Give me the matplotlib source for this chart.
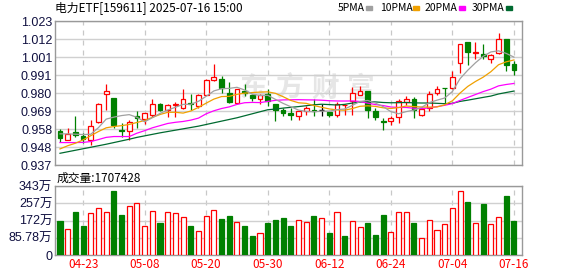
import numpy as np
import pandas as pd
import matplotlib.pyplot as plt

plt.rcParams['font.family'] = ['Noto Sans CJK SC', 'DejaVu Sans']

# 交易日
dates = ['04-18', '04-21', '04-22', '04-23', '04-24', '04-25', '04-28', '04-29', '04-30',
         '05-06', '05-07', '05-08', '05-09', '05-12', '05-13', '05-14', '05-15', '05-16',
         '05-19', '05-20', '05-21', '05-22', '05-23', '05-26', '05-27', '05-28', '05-29', '05-30',
         '06-03', '06-04', '06-05', '06-06', '06-09', '06-10', '06-11', '06-12', '06-13',
         '06-16', '06-17', '06-18', '06-19', '06-20', '06-23', '06-24', '06-25', '06-26',
         '06-27', '06-30', '07-01', '07-02', '07-03', '07-04', '07-07', '07-08', '07-09',
         '07-10', '07-11', '07-14', '07-15', '07-16']
date_labels = ['04-23', '05-08', '05-20', '05-30', '06-12', '06-24', '07-04', '07-16']

opens = [.9576, .9522, .9570, .9546, .9522, .9624, .9796, .9770, .9578, .9576,
         .9662, .9642, .9670, .9734, .9698, .9726, .9710, .9740, .9724, .9790,
         .9876, .9882, .9798, .9738, .9812, .9790, .9764, .9794, .9734, .9700,
         .9680, .9664, .9694, .9698, .9698, .9686, .9666, .9726, .9750, .9786,
         .9814, .9690, .9630, .9634, .9654, .9744, .9764, .9670, .9710, .9798,
         .9832, .9830, .9980, 1.0106, 1.0036, 1.0034, 1.0006, 1.0040, 1.0124, .9974]
highs = [.9584, .9590, .9662, .9560, .9636, .9740, .9854, .9770, .9618, .9636,
         .9690, .9682, .9764, .9740, .9734, .9746, .9826, .9794, .9794, .9884,
         .9974, .9904, .9864, .9826, .9854, .9794, .9794, .9826, .9734, .9710,
         .9710, .9694, .9720, .9764, .9734, .9686, .9746, .9736, .9836, .9840,
         .9814, .9710, .9650, .9660, .9764, .9780, .9774, .9714, .9810, .9840,
         .9832, .9930, 1.0094, 1.0106, 1.0106, 1.0094, 1.0034, 1.0160, 1.0124, .9990]
lows = [.9508, .9518, .9538, .9500, .9490, .9620, .9700, .9590, .9540, .9522,
        .9590, .9614, .9658, .9694, .9654, .9654, .9706, .9700, .9710, .9786,
        .9874, .9800, .9740, .9734, .9784, .9750, .9734, .9720, .9634, .9660,
        .9640, .9640, .9670, .9660, .9664, .9654, .9654, .9670, .9670, .9786,
        .9650, .9640, .9580, .9610, .9620, .9726, .9650, .9664, .9694, .9786,
        .9736, .9826, .9920, .9966, 1.0006, 1.0006, .9980, 1.0034, .9930, .9906]
closes = [.9534, .9558, .9550, .9526, .9600, .9732, .9812, .9610, .9572, .9628,
          .9652, .9678, .9732, .9700, .9730, .9734, .9764, .9734, .9790, .9880,
          .9894, .9830, .9744, .9822, .9800, .9770, .9790, .9750, .9700, .9680,
          .9670, .9690, .9710, .9690, .9698, .9670, .9734, .9730, .9800, .9814,
          .9700, .9654, .9626, .9650, .9750, .9764, .9700, .9706, .9792, .9824,
          .9828, .9894, 1.0090, 1.0044, 1.0046, 1.0020, 1.0026, 1.0124, .9966, .9936]
# 成交量(万)
volumes = [169, 128, 214, 144, 207, 232, 212, 318, 199, 244,
           257, 144, 217, 159, 212, 209, 187, 144, 118, 192,
           222, 179, 194, 162, 144, 94, 108, 159, 174, 183,
           144, 172, 162, 194, 182, 109, 212, 94, 167, 138,
           159, 99, 199, 113, 212, 212, 159, 83, 172, 123,
           152, 232, 316, 263, 159, 254, 152, 187, 293, 170.7428]

# 均线开头部分(读自原图, 之前的数据不在图内)
ma5_head = [.9556, .9556, .9554, .9552]
ma10_head = [.9466, .9485, .9500, .9520, .9545, .9570, .9592, .9600, .9605]
ma20_head = [.9504, .9504, .9504, .9505, .9510, .9522, .9535, .9540, .9540, .9540,
             .9560, .9575, .9592, .9605, .9618, .9625, .9630, .9638, .9650]
ma30_head = [.9440, .9449, .9458, .9467, .9476, .9485, .9494, .9504, .9514, .9524,
             .9535, .9544, .9553, .9562, .9570, .9578, .9586, .9594, .9602, .9612,
             .9622, .9632, .9642, .9652, .9664, .9676, .9688, .9700, .9704]

price_labels = ['0.937', '0.948', '0.958', '0.969', '0.980', '0.991', '1.001', '1.012', '1.023']
vol_labels = ['0', '85.78万', '172万', '257万', '343万']
vol_top = 343.12

RED = '#ff0000'
GREEN = '#008000'
GRID = '#d0d0d0'

W, H = 578, 276
fig = plt.figure(figsize=(W / 100, H / 100), dpi=100)


def fx(px):
    return px / W


def fy(py):
    return 1 - py / H


ax = fig.add_axes([fx(55), fy(165), fx(522) - fx(55), fy(21) - fy(165)])
ax2 = fig.add_axes([fx(55), fy(255), fx(522) - fx(55), fy(186) - fy(255)])

x = np.arange(len(closes))
xlim = (-0.65, 60.05)

s = pd.Series(closes)


def moving_avg(n, head):
    m = s.rolling(n).mean().to_numpy()
    m[:len(head)] = head
    return m


# K线
for i in x:
    o, h, l, c = opens[i], highs[i], lows[i], closes[i]
    if c > o:
        col, face = RED, 'white'
    elif c < o:
        col, face = GREEN, GREEN
    else:
        col, face = 'black', 'black'
    ax.vlines(i, l, h, color=col, lw=0.9, zorder=3)
    if c == o:
        ax.hlines(c, i - 0.33, i + 0.33, color=col, lw=1, zorder=4)
    else:
        ax.bar(i, abs(c - o), bottom=min(o, c), width=0.62, facecolor=face,
               edgecolor=col, lw=0.9, zorder=4)

ma_colors = {5: '#a0a0a0', 10: '#f0a000', 20: '#ff00ff', 30: '#006a30'}
for n, head in [(30, ma30_head), (20, ma20_head), (10, ma10_head), (5, ma5_head)]:
    ax.plot(x, moving_avg(n, head), color=ma_colors[n], lw=0.9, zorder=5)

ymin, ymax = 0.937, 1.023
ax.set_ylim(ymin, ymax)
ax.set_yticks(np.linspace(ymin, ymax, len(price_labels)))
ax.set_yticklabels(price_labels)

# 成交量
prev = [opens[0]] + closes[:-1]
for i in x:
    if closes[i] >= prev[i]:
        ax2.bar(i, volumes[i], width=0.66, facecolor='white', edgecolor=RED, lw=0.9, zorder=3)
    else:
        ax2.bar(i, volumes[i], width=0.66, facecolor=GREEN, edgecolor=GREEN, lw=0.9, zorder=3)
ax2.set_ylim(0, vol_top)
ax2.set_yticks(np.linspace(0, vol_top, len(vol_labels)))
ax2.set_yticklabels(vol_labels)

tick_pos = [dates.index(d) for d in date_labels]
for a in (ax, ax2):
    a.set_xlim(*xlim)
    a.set_xticks(tick_pos)
    a.grid(axis='y', color=GRID, lw=1, zorder=0)
    a.grid(axis='x', color='#c8c8c8', lw=0.9, ls=(0, (4, 4)), zorder=0)
    a.tick_params(length=0, pad=2)
    for sp in a.spines.values():
        sp.set_color('#999999')
        sp.set_linewidth(1)
    for lab in a.get_yticklabels():
        lab.set_fontfamily(['Liberation Sans', 'Noto Sans CJK SC'])
        lab.set_fontsize(9)
        lab.set_color('#101040')
ax.set_xticklabels([])
ax2.set_xticklabels(date_labels, color=RED, fontsize=8.5)

# 水印
for k, ch in enumerate('东方财富'):
    ax.text(fx(253 + 36 * k), fy(89), ch, transform=fig.transFigure, fontsize=20,
            color='#e6e6e6', ha='center', va='center', zorder=1, fontweight='bold')

fig.text(fx(55), fy(8), '电力ETF[159611] 2025-07-16 15:00', fontsize=8.5,
         va='center', ha='left')
fig.text(fx(57), fy(178), '成交量:1707428', fontsize=8.5, va='center', ha='left')

legend_items = [('5PMA', 338, 366, ma_colors[5]), ('10PMA', 380, 413, ma_colors[10]),
                ('20PMA', 425, 459, ma_colors[20]), ('30PMA', 472, 506, ma_colors[30])]
for name, tx, rx, col in legend_items:
    fig.text(fx(tx), fy(8), name, fontsize=7.5, va='center', ha='left')
    fig.patches.append(plt.Rectangle((fx(rx), fy(9.5)), fx(6), fy(0) - fy(3),
                                     transform=fig.transFigure, color=col))

fig.savefig('out.png', dpi=100)
